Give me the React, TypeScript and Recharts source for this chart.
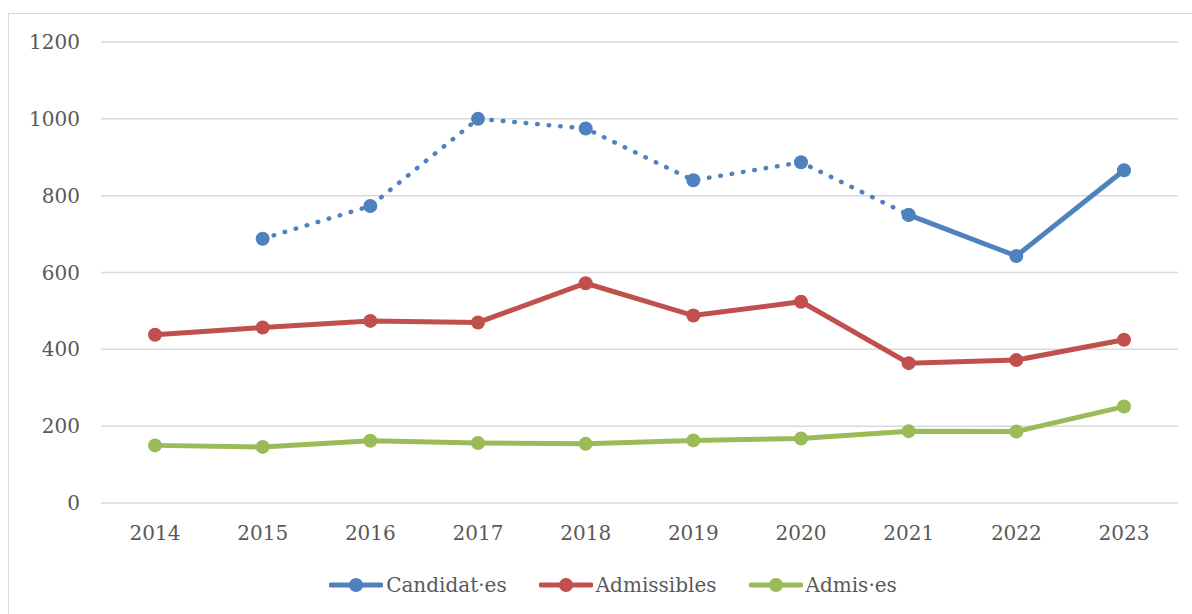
import { LineChart, Line, XAxis, YAxis, CartesianGrid } from "recharts";

const years = ["2014", "2015", "2016", "2017", "2018", "2019", "2020", "2021", "2022", "2023"];
const candidates = [null, 688, 773, 1000, 975, 840, 887, 750, 643, 866];
const admissibles = [438, 457, 474, 470, 572, 488, 524, 364, 372, 425];
const admis = [150, 146, 162, 156, 154, 163, 168, 187, 186, 251];
const yTicks = [0, 200, 400, 600, 800, 1000, 1200];
// candidates are drawn dotted up to this year, solid after
const dottedUntil = "2021";

const BLUE = "#4F81BD";
const RED = "#C0504D";
const GREEN = "#9BBB59";
const TEXT = "#595959";
const FONT = "'DejaVu Serif', serif";

const splitIdx = years.indexOf(dottedUntil);
const data = years.map((year, i) => ({
  year,
  candDotted: i <= splitIdx ? candidates[i] : null,
  candSolid: i >= splitIdx ? candidates[i] : null,
  admissibles: admissibles[i],
  admis: admis[i],
}));

const legendItems = [
  { label: "Candidat·es", color: BLUE },
  { label: "Admissibles", color: RED },
  { label: "Admis·es", color: GREEN },
];

function LegendIcon({ color }: { color: string }) {
  return (
    <svg width={54} height={16} style={{ display: "block" }}>
      <line x1={2} y1={8} x2={52} y2={8} stroke={color} strokeWidth={5} strokeLinecap="round" />
      <circle cx={27} cy={8} r={7} fill={color} />
    </svg>
  );
}

export default function App() {
  const tick = { fill: TEXT, fontSize: 20, fontFamily: FONT };
  const dot = (c: string) => ({ r: 7, fill: c, stroke: c, strokeWidth: 0 });
  return (
    <div
      style={{
        position: "fixed",
        left: 8,
        top: 13,
        width: 1200,
        height: 620,
        border: "1.5px solid #d9d9d9",
        background: "#fff",
      }}
    >
      <LineChart
        width={1183}
        height={600}
        data={data}
        margin={{ top: 28, right: 14, bottom: 71, left: 32 }}
      >
        <CartesianGrid vertical={false} stroke="#d9d9d9" strokeWidth={1.5} />
        <XAxis
          dataKey="year"
          axisLine={false}
          tickLine={false}
          tickSize={0}
          tickMargin={23}
          height={40}
          tick={tick}
          interval={0}
          padding={{ left: 54, right: 54 }}
        />
        <YAxis
          domain={[0, 1200]}
          ticks={yTicks}
          axisLine={false}
          tickLine={false}
          tickSize={0}
          tickMargin={21}
          width={60}
          tick={tick}
          interval={0}
        />
        <Line
          dataKey="admis"
          stroke={GREEN}
          strokeWidth={5}
          dot={dot(GREEN)}
          activeDot={false}
          isAnimationActive={false}
        />
        <Line
          dataKey="admissibles"
          stroke={RED}
          strokeWidth={5}
          dot={dot(RED)}
          activeDot={false}
          isAnimationActive={false}
        />
        <Line
          dataKey="candDotted"
          stroke={BLUE}
          strokeWidth={4.5}
          strokeDasharray="0.5 11"
          strokeLinecap="round"
          dot={dot(BLUE)}
          activeDot={false}
          isAnimationActive={false}
        />
        <Line
          dataKey="candSolid"
          stroke={BLUE}
          strokeWidth={5}
          dot={dot(BLUE)}
          activeDot={false}
          isAnimationActive={false}
        />
      </LineChart>
      <div
        style={{
          position: "absolute",
          left: 0,
          width: 1208,
          top: 559,
          display: "flex",
          justifyContent: "center",
          alignItems: "center",
          gap: 32,
          fontFamily: FONT,
          fontSize: 20,
          color: TEXT,
        }}
      >
        {legendItems.map((it) => (
          <div key={it.label} style={{ display: "flex", alignItems: "center", gap: 3 }}>
            <LegendIcon color={it.color} />
            <span>{it.label}</span>
          </div>
        ))}
      </div>
    </div>
  );
}
